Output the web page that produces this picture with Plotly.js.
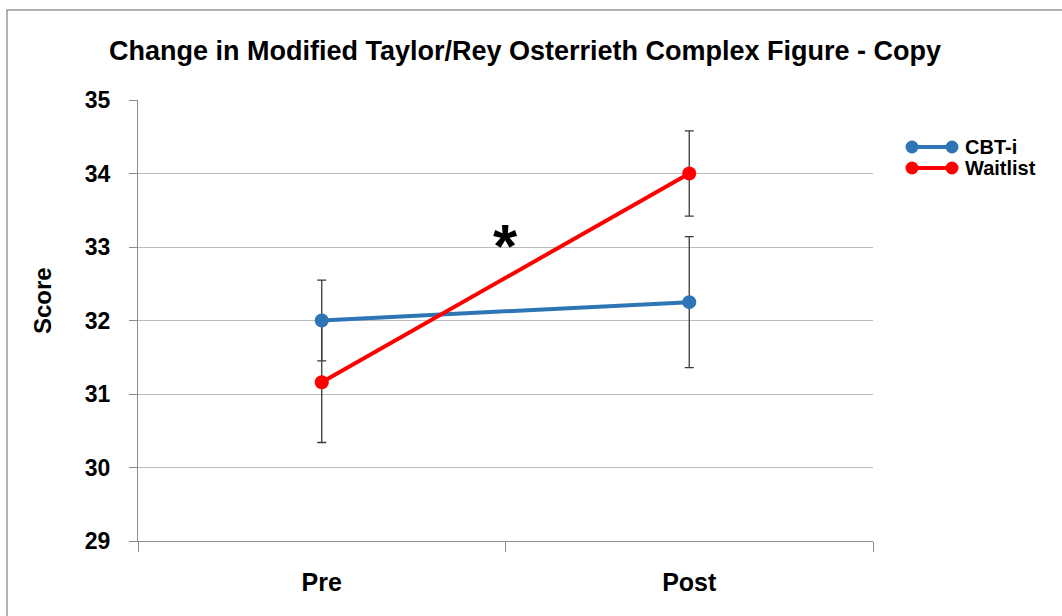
<!DOCTYPE html>
<html>
<head>
<meta charset="utf-8">
<script src="https://cdn.plot.ly/plotly-3.0.1.min.js"></script>
<style>
  html, body { margin: 0; padding: 0; background: #ffffff; }
  #chart { width: 1062px; height: 616px; }
</style>
</head>
<body>
<div id="chart"></div>
<script>
// Time points on the category axis
const timepoints = ["Pre", "Post"];

// Mean scores per group
const cbtiScores = [32.0, 32.25];
const waitlistScores = [31.16, 34.0];

// Error bar half-lengths per group
const cbtiErrors = [0.55, 0.89];
const waitlistErrors = [0.82, 0.58];

// Y axis ticks
const scoreTicks = [29, 30, 31, 32, 33, 34, 35];

const seriesNames = ["CBT-i", "Waitlist"];
const seriesColors = ["#2E75B6", "#FF0000"];

const FONT = "'Liberation Sans', Arial, sans-serif";
const W = 1062, H = 616;
const margin = { l: 138, r: 189, t: 100, b: 75 };
const plotW = W - margin.l - margin.r;
const plotH = H - margin.t - margin.b;

// Convert page pixels into paper coordinates for decorations
const px = x => (x - margin.l) / plotW;
const py = y => (H - margin.b - y) / plotH;

function errTrace(y, err) {
  return {
    x: timepoints, y: y, type: "scatter", mode: "markers",
    marker: { size: 1, color: "rgba(0,0,0,0)" },
    error_y: { type: "data", array: err, visible: true, color: "#3a3a3a", thickness: 1.3, width: 4.5 },
    hoverinfo: "skip", showlegend: false
  };
}
function lineTrace(y, name, color) {
  return {
    x: timepoints, y: y, type: "scatter", mode: "lines+markers", name: name,
    line: { color: color, width: 4 },
    marker: { color: color, size: 14 },
    showlegend: false
  };
}

const data = [
  errTrace(cbtiScores, cbtiErrors),
  errTrace(waitlistScores, waitlistErrors),
  lineTrace(cbtiScores, seriesNames[0], seriesColors[0]),
  lineTrace(waitlistScores, seriesNames[1], seriesColors[1])
];

// Legend: line with a marker at each end, and a label
const legendRows = [147, 168];
const shapes = [];
const annotations = [];
seriesNames.forEach((name, i) => {
  const yy = py(legendRows[i]);
  shapes.push({ type: "line", xref: "paper", yref: "paper", x0: px(912), x1: px(952), y0: yy, y1: yy,
    line: { color: seriesColors[i], width: 4 } });
  [912, 952].forEach(cx => {
    shapes.push({ type: "circle", xref: "paper", yref: "paper", xsizemode: "pixel", ysizemode: "pixel",
      xanchor: px(cx), yanchor: yy, x0: -6.5, x1: 6.5, y0: -6.5, y1: 6.5,
      fillcolor: seriesColors[i], line: { width: 0 } });
  });
  annotations.push({ xref: "paper", yref: "paper", x: px(963), y: yy, xanchor: "left", yanchor: "middle",
    text: "<b>" + name + "</b>", showarrow: false, font: { family: FONT, size: 20, color: "#000" } });
});

// Outer frame
shapes.push({ type: "path", xref: "paper", yref: "paper",
  path: `M ${px(7)} ${py(H + 5)} L ${px(7)} ${py(10)} L ${px(W + 5)} ${py(10)}`,
  line: { color: "#999999", width: 1.5 } });

// Significance marker
annotations.push({ xref: "x", yref: "y", x: 0.5, y: 33.15, text: "<b>*</b>", showarrow: false,
  font: { family: FONT, size: 62, color: "#000" }, yanchor: "middle", xanchor: "center", yshift: -10 });

// Y axis title
annotations.push({ xref: "paper", yref: "paper", x: px(42), y: py(300), text: "<b>Score</b>", textangle: -90,
  showarrow: false, font: { family: FONT, size: 24, color: "#000" }, xanchor: "center", yanchor: "middle" });

const layout = {
  width: W, height: H,
  margin: margin,
  paper_bgcolor: "#ffffff", plot_bgcolor: "#ffffff",
  showlegend: false,
  title: { text: "<b>Change in Modified Taylor/Rey Osterrieth Complex Figure - Copy</b>",
    font: { family: FONT, size: 27, color: "#000" }, x: 525 / W, xanchor: "center", y: 1 - 51 / H, yanchor: "middle" },
  xaxis: {
    type: "category", range: [-0.5, 1.5], showgrid: false,
    showline: true, linecolor: "#8c8c8c", linewidth: 1,
    ticks: "outside", tickson: "boundaries", ticklen: 10, tickcolor: "#8c8c8c",
    tickfont: { family: FONT, size: 25, color: "#000" }, ticklabelstandoff: 19,
    tickvals: timepoints, ticktext: timepoints.map(t => "<b>" + t + "</b>"),
    zeroline: false, fixedrange: true
  },
  yaxis: {
    range: [29, 35], tickvals: scoreTicks, ticktext: scoreTicks.map(v => "<b>" + v + "</b>"),
    showgrid: true, gridcolor: "#bcbcbc", gridwidth: 1,
    showline: true, linecolor: "#8c8c8c", linewidth: 1,
    ticks: "outside", ticklen: 8, tickcolor: "#8c8c8c",
    tickfont: { family: FONT, size: 23, color: "#000" }, ticklabelstandoff: 14,
    zeroline: false, fixedrange: true
  },
  shapes: shapes,
  annotations: annotations
};

Plotly.newPlot("chart", data, layout, { displayModeBar: false, staticPlot: true });
</script>
</body>
</html>
